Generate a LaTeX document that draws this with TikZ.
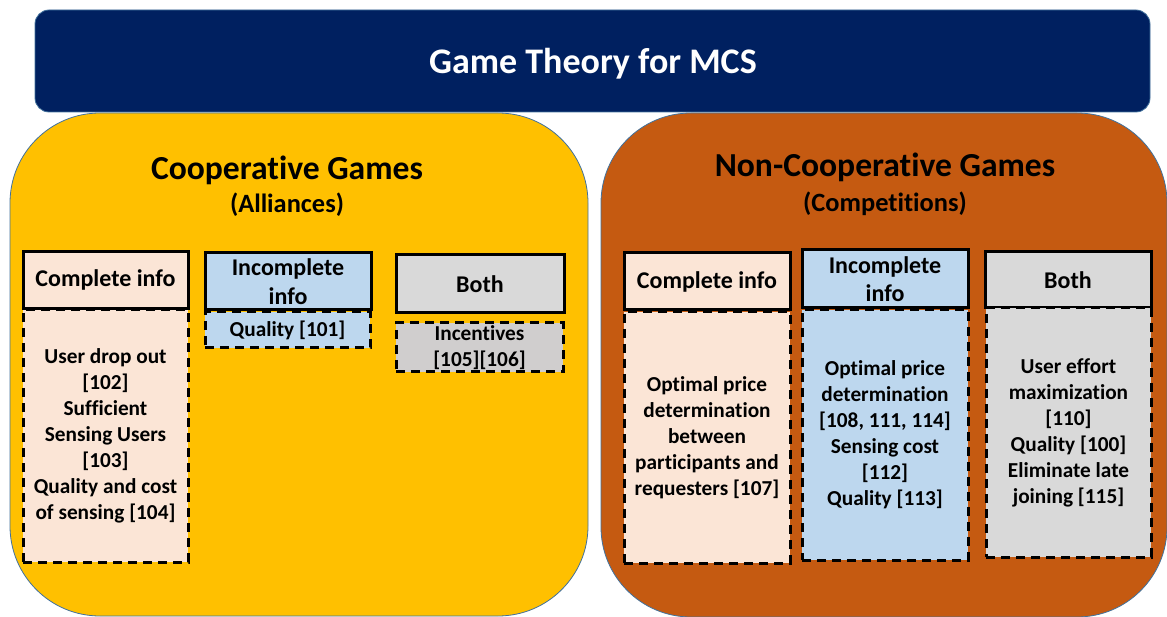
\documentclass[tikz,border=0pt]{standalone}
\usepackage{fontspec}
\setmainfont{Carlito}[Ligatures=NoCommon]
\definecolor{navy}{HTML}{002060}
\definecolor{gold}{HTML}{FFC000}
\definecolor{rust}{HTML}{C55A11}
\definecolor{peach}{HTML}{FBE5D6}
\definecolor{lblue}{HTML}{BDD7EE}
\definecolor{lgray}{HTML}{D9D9D9}
\definecolor{mgray}{HTML}{D0CECE}
\definecolor{edgeblue}{HTML}{41719C}
\tikzset{
  bigbox/.style={draw=edgeblue, line width=0.8pt, rounded corners=90pt, inner sep=0pt},
  hdr/.style={draw=black, line width=3pt, inner sep=0pt, align=center,
    font=\fontsize{24}{28.5}\selectfont\bfseries},
  cnt/.style={draw=black, line width=3pt, dash pattern=on 9pt off 6pt, inner sep=0pt, align=center,
    font=\fontsize{21.3}{26}\selectfont\bfseries},
  bigtitle/.style={anchor=base, font=\fontsize{33.6}{40}\selectfont\bfseries},
  subtitle/.style={anchor=base, font=\fontsize{26.4}{31}\selectfont\bfseries},
}
\begin{document}
\begin{tikzpicture}[x=1pt,y=-1pt]
\useasboundingbox (0,0) rectangle (1167,617);
% title bar
\node[fill=navy, draw=edgeblue, line width=0.8pt, rounded corners=14pt, minimum width=1115, minimum height=102, inner sep=0pt] (title) at (592.5,61) {};
\node[anchor=base, text=white, font=\fontsize{36}{43}\selectfont\bfseries] (titletext) at (593,74) {Game Theory for MCS};
% big boxes
\node[bigbox, fill=gold, minimum width=578, minimum height=503] (coop) at (299,364.5) {};
\node[bigbox, fill=rust, minimum width=566, minimum height=504] (noncoop) at (884,365) {};
\node[bigtitle] (cooptitle) at (287,180) {Cooperative Games};
\node[subtitle] (coopsub) at (287,213) {(Alliances)};
\node[bigtitle] (noncooptitle) at (885,177) {Non-Cooperative Games};
\node[subtitle] (noncoopsub) at (885,212) {(Competitions)};
% cooperative
\node[cnt, fill=peach, minimum width=165, minimum height=252] (c1) at (105.5,436) {User drop out\\{[102]}\\Sufficient\\Sensing Users\\{[103]}\\Quality and cost\\of sensing [104]};
\node[hdr, fill=peach, minimum width=165, minimum height=57] (h1) at (105.5,280) {Complete info};
\node[cnt, fill=lblue, minimum width=165, minimum height=36] (c2) at (287.5,330) {Quality [101]};
\node[hdr, fill=lblue, minimum width=166, minimum height=57] (h2) at (288,281.5) {Incomplete\\info};
\node[hdr, fill=lgray, minimum width=168, minimum height=58] (h3) at (480,284) {Both};
\node[cnt, fill=mgray, minimum width=167, minimum height=49] (c3) at (479.5,347.5) {Incentives\\{[105][106]}};
% non-cooperative
\node[hdr, fill=peach, minimum width=166, minimum height=57] (h4) at (707,281.5) {Complete info};
\node[cnt, fill=peach, minimum width=166, minimum height=251] (c4) at (707,437.5) {Optimal price\\determination\\between\\participants and\\requesters [107]};
\node[hdr, fill=lblue, minimum width=166, minimum height=58] (h5) at (885,279) {Incomplete\\info};
\node[cnt, fill=lblue, minimum width=166, minimum height=250] (c5) at (885,435) {Optimal price\\determination\\{[108, 111, 114]}\\Sensing cost\\{[112]}\\Quality [113]};
\node[hdr, fill=lgray, minimum width=166, minimum height=56] (h6) at (1068,280) {Both};
\node[cnt, fill=lgray, minimum width=165, minimum height=249] (c6) at (1068.5,432.5) {User effort\\maximization\\{[110]}\\Quality [100]\\Eliminate late\\joining [115]};
\end{tikzpicture}
\end{document}
